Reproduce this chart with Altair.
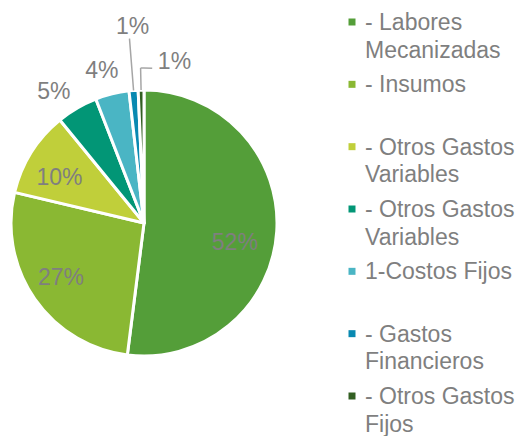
import altair as alt
import pandas as pd

categories = [
    "- Labores\nMecanizadas",
    "- Insumos",
    "- Otros Gastos\nVariables",
    "- Otros Gastos\nVariables",
    "1-Costos Fijos",
    "- Gastos\nFinancieros",
    "- Otros Gastos\nFijos",
]
values = [52.0, 26.7, 10.4, 5.0, 4.1, 1.1, 0.7]
colors = ["#549E39", "#8AB833", "#C0CF3A", "#029676", "#4AB5C4", "#0989B1", "#325F22"]
order = list(range(1, len(values) + 1))

df = pd.DataFrame({"order": order, "categoria": categories, "valor": values})

FONT = "Liberation Sans"
GRAY = "#7F7F7F"
LINE = "#A6A6A6"

color_enc = alt.Color("order:O", scale=alt.Scale(domain=order, range=colors), legend=None)

base = (
    alt.Chart(df)
    .transform_joinaggregate(total="sum(valor)")
    .transform_window(cum="sum(valor)", sort=[alt.SortField("order")], frame=[None, 0])
    .transform_calculate(
        t0="(datum.cum - datum.valor) / datum.total * 2 * PI",
        t1="datum.cum / datum.total * 2 * PI",
        tm="(datum.cum - datum.valor / 2) / datum.total * 2 * PI",
        pct="format(datum.valor / datum.total, '.0%')",
    )
)

arcs = base.mark_arc(radius=133, stroke="white", strokeWidth=3, strokeJoin="round").encode(
    theta=alt.Theta("t0:Q", scale=None),
    theta2="t1:Q",
    color=color_enc,
)

txt = dict(font=FONT, fontSize=23, color=GRAY)


def label(n, radius, dx, dy):
    return base.transform_filter(f"datum.order == {n}").mark_text(
        radius=radius, dx=dx, dy=dy, **txt
    ).encode(theta=alt.Theta("tm:Q", scale=None), text="pct:N")


labs = [
    label(1, 95, -4, 14),
    label(2, 95, -5, 1),
    label(3, 95, -4, 5),
    label(4, 155, -12, 3),
    label(5, 155, -5, -2),
    label(6, 196, 4, -1),
    label(7, 160, 34, -1),
]

lead6 = base.transform_filter("datum.order == 6").mark_arc(
    radius=185, radius2=133, fillOpacity=0, stroke=LINE, strokeWidth=1.5
).encode(theta=alt.Theta("tm:Q", scale=None), theta2="tm:Q")
lead7a = base.transform_filter("datum.order == 7").mark_arc(
    radius=155, radius2=133, fillOpacity=0, stroke=LINE, strokeWidth=1.5
).encode(theta=alt.Theta("tm:Q", scale=None), theta2="tm:Q")
lead7b = (
    base.transform_filter("datum.order == 7")
    .transform_calculate(tm2="datum.tm + 0.075")
    .mark_arc(radius=155, radius2=155, fillOpacity=0, stroke=LINE, strokeWidth=1.5)
    .encode(theta=alt.Theta("tm:Q", scale=None), theta2="tm2:Q")
)

pie = alt.layer(arcs, lead6, lead7a, lead7b, *labs).properties(width=272, height=410)

leg = alt.Chart(df)
yenc = alt.Y("order:O", axis=None, scale=alt.Scale(padding=0))
squares = leg.mark_point(
    shape="square", size=49, filled=True, opacity=1, strokeWidth=0, yOffset=4
).encode(x=alt.value(4), y=yenc, color=color_enc)
labels = leg.mark_text(
    align="left", baseline="alphabetic", lineBreak="\n", lineHeight=27.5,
    dy=12, font=FONT, fontSize=23, color=GRAY
).encode(x=alt.value(17), y=yenc, text="categoria:N")
legend = alt.layer(squares, labels).properties(width=150, height=374)

chart = (
    alt.hconcat(pie, legend, spacing=68)
    .properties(padding={"left": 0, "top": 4, "right": 0, "bottom": 0})
    .configure_view(stroke=None)
)

chart.save("out.html", embed_options={"renderer": "svg", "actions": False})
